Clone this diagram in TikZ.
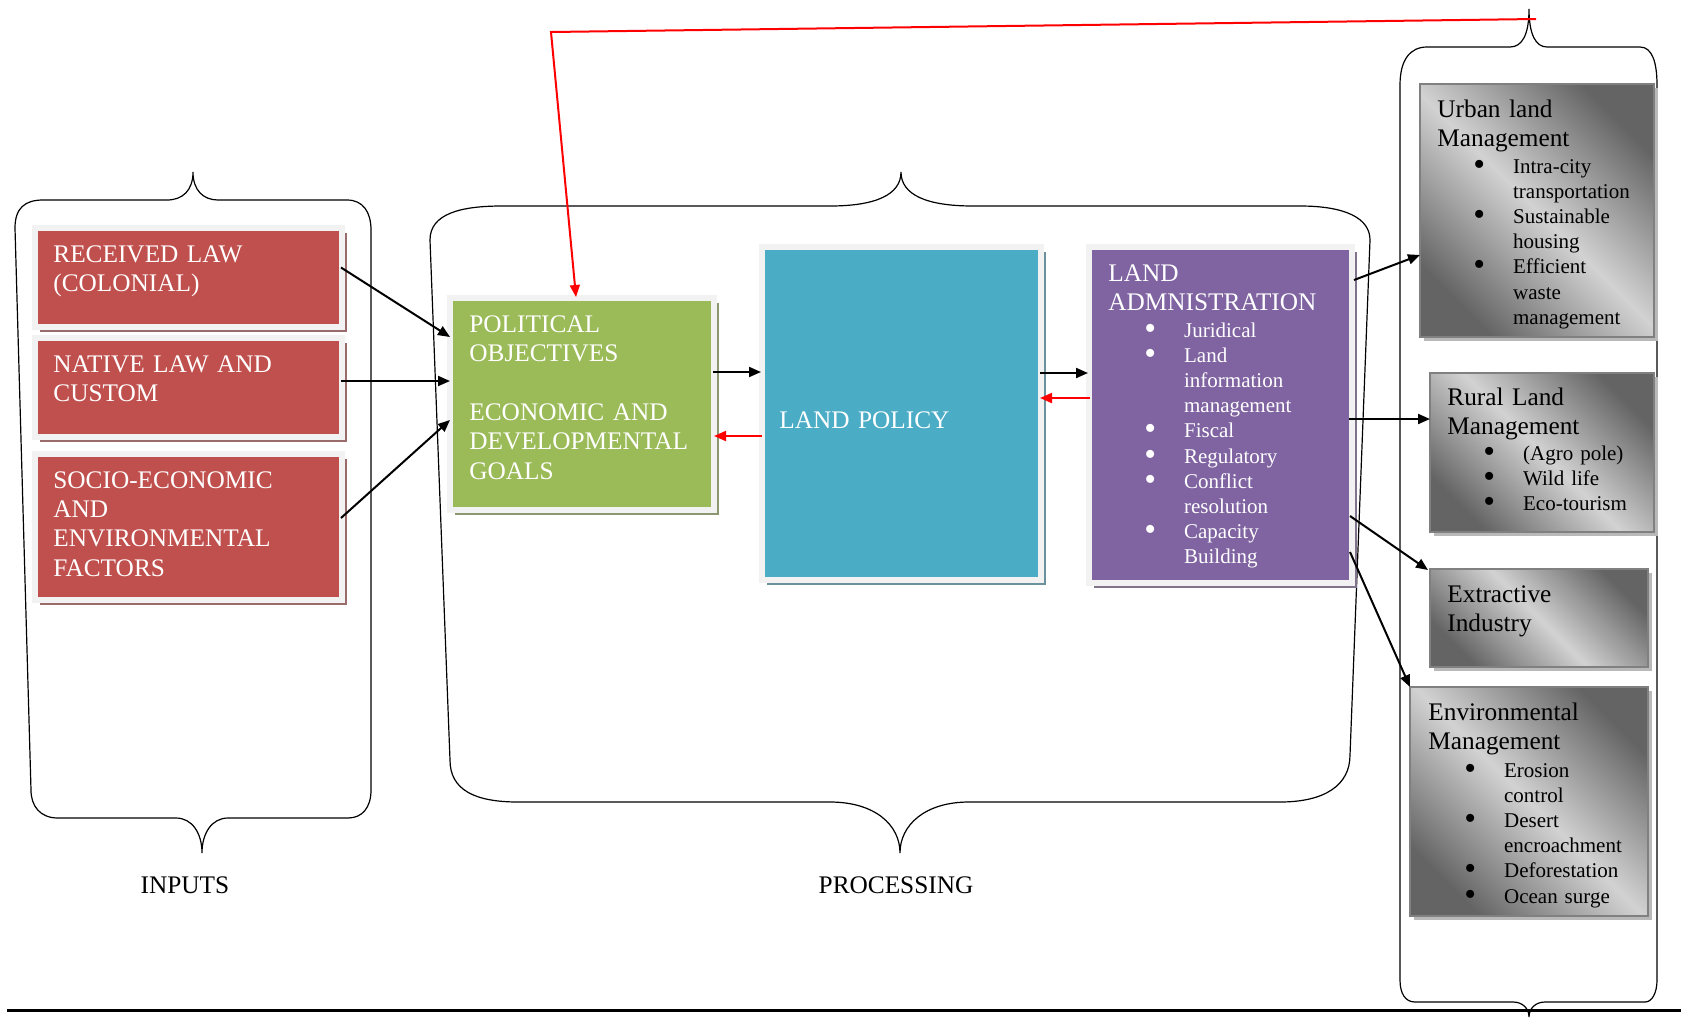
\documentclass[tikz,border=0pt]{standalone}
\usepackage{fontspec}
\setmainfont{Liberation Serif}
\usetikzlibrary{arrows.meta,shadows,positioning}

\definecolor{redbox}{HTML}{C0504D}
\definecolor{greenbox}{HTML}{9BBB59}
\definecolor{bluebox}{HTML}{4BACC6}
\definecolor{purplebox}{HTML}{8064A2}
\definecolor{frame}{HTML}{F2F2F2}
\definecolor{gdark}{HTML}{646464}
\definecolor{glight}{HTML}{D2D2D2}

\newcommand{\bul}{\makebox[19.85pt][l]{\smash{\raisebox{-0.1em}{\scalebox{1.6}{\textbullet}}}}}
\newcommand{\ind}{\hspace*{19.85pt}}

\tikzset{
	box/.style={anchor=north west, inner sep=0pt, outer sep=0pt},
	cbox/.style={box, fill=#1, draw=frame, line width=2.75pt,
		drop shadow={shadow xshift=2.5pt, shadow yshift=-2.5pt, fill=#1!40!gray, opacity=1}},
	gbox/.style={box, draw=gray, line width=0.8pt,
		top color=gdark, bottom color=gdark, middle color=glight, shading angle=-45,
		drop shadow={shadow xshift=1.8pt, shadow yshift=-1.8pt, fill=gray!55, opacity=1}},
	hd/.style={anchor=base west, inner sep=0pt, align=left, text width=150pt,
		font=\fontsize{12.65}{14.7}\selectfont},
	ls/.style={anchor=base west, inner sep=0pt, align=left, text width=120pt,
		font=\fontsize{10.5}{12.6}\selectfont},
	lbl/.style={inner sep=0pt, font=\fontsize{12.65}{14.7}\selectfont},
	arr/.style={-{Triangle[length=6pt,width=5pt]}, line width=1pt},
	farr/.style={arr, red},
	brace/.style={line width=0.6pt}
}

\begin{document}
\begin{tikzpicture}[x=0.5pt, y=-0.5pt]
	\useasboundingbox (0,0) rectangle (1681,1018);

	% braces
	\draw[brace] (31,790) -- (15,228) .. controls (15,208) and (25,200) .. (43,200) -- (167,200)
		.. controls (183,200) and (193,190) .. (193,172) .. controls (193,190) and (203,200) .. (218,200)
		-- (347,200) .. controls (363,200) and (371,212) .. (371,230) -- (371,790)
		.. controls (371,808) and (362,818) .. (348,818) -- (228,818)
		.. controls (212,818) and (202,833) .. (202,853) .. controls (202,833) and (192,818) .. (176,818)
		-- (58,818) .. controls (40,818) and (31,806) .. (31,790) -- cycle;
	\draw[brace] (450,760) -- (430,240) .. controls (430,214) and (460,206) .. (502,206) -- (830,206)
		.. controls (875,206) and (901,195) .. (901,172) .. controls (901,195) and (927,206) .. (973,206)
		-- (1300,206) .. controls (1345,206) and (1370,218) .. (1370,240) -- (1350,755)
		.. controls (1350,785) and (1325,802) .. (1280,802) -- (969,802)
		.. controls (925,802) and (900,825) .. (900,853) .. controls (900,825) and (875,802) .. (830,802)
		-- (518,802) .. controls (475,802) and (450,790) .. (450,760) -- cycle;
	\draw[brace] (1400,980) -- (1400,85) .. controls (1400,60) and (1410,47) .. (1427,47) -- (1510,47)
		.. controls (1522,47) and (1529,35) .. (1529,9) .. controls (1529,35) and (1536,47) .. (1547,47)
		-- (1640,47) .. controls (1652,47) and (1657,62) .. (1657,85) -- (1657,980)
		.. controls (1657,993) and (1652,1002) .. (1645,1002) -- (1545,1002)
		.. controls (1536,1002) and (1529,1008) .. (1529,1017) .. controls (1529,1008) and (1522,1002) .. (1513,1002)
		-- (1415,1002) .. controls (1405,1002) and (1400,993) .. (1400,980) -- cycle;
	\draw[line width=1.5pt] (7,1010) -- (1681,1010);

	% inputs
	\node[cbox=redbox, minimum width=153.5pt, minimum height=49.5pt] (rec) at (35,228) {};
	\node[cbox=redbox, minimum width=153.5pt, minimum height=49.5pt] (nat) at (35,338) {};
	\node[cbox=redbox, minimum width=153.5pt, minimum height=73pt] (soc) at (35,454) {};
	\node[hd, text=white] (rectx) at (53,262) {RECEIVED LAW\\(COLONIAL)};
	\node[hd, text=white] (nattx) at (53,372) {NATIVE LAW AND\\CUSTOM};
	\node[hd, text=white] (soctx) at (53,488) {SOCIO-ECONOMIC\\AND\\ENVIRONMENTAL\\FACTORS};

	% processing
	\node[cbox=greenbox, minimum width=132pt, minimum height=106pt] (pol) at (450,298) {};
	\node[cbox=bluebox, minimum width=139.5pt, minimum height=166.5pt] (lp) at (762,247) {};
	\node[cbox=purplebox, minimum width=131.5pt, minimum height=168pt] (la) at (1089,247) {};
	\node[hd, text=white] (poltx) at (469,332) {POLITICAL\\OBJECTIVES\\[14.7pt]ECONOMIC AND\\DEVELOPMENTAL\\GOALS};
	\node[hd, text=white] (lptx) at (779,428) {LAND POLICY};
	\node[hd, text=white] (latx) at (1108,281) {LAND\\ADMNISTRATION};
	\node[ls, text=white] (lals) at (1144,337) {\bul Juridical\\ \bul Land\\ \ind information\\ \ind management\\
		\bul Fiscal\\ \bul Regulatory\\ \bul Conflict\\ \ind resolution\\ \bul Capacity\\ \ind Building};

	% outputs
	\node[gbox, minimum width=117pt, minimum height=126.5pt] (urb) at (1420,84) {};
	\node[gbox, minimum width=112pt, minimum height=79.5pt] (rur) at (1430,373) {};
	\node[gbox, minimum width=109pt, minimum height=49pt] (ext) at (1430,569) {};
	\node[gbox, minimum width=119pt, minimum height=114.5pt] (env) at (1410,687) {};
	\node[hd] (urbtx) at (1437,117) {Urban land\\Management};
	\node[ls] (urbls) at (1473,173) {\bul Intra-city\\ \ind transportation\\ \bul Sustainable\\ \ind housing\\
		\bul Efficient\\ \ind waste\\ \ind management};
	\node[hd] (rurtx) at (1447,405) {Rural Land\\Management};
	\node[ls] (rurls) at (1483,460) {\bul (Agro pole)\\ \bul Wild life\\ \bul Eco-tourism};
	\node[hd] (exttx) at (1447,602) {Extractive\\Industry};
	\node[hd] (envtx) at (1428,720) {Environmental\\Management};
	\node[ls] (envls) at (1464,777) {\bul Erosion\\ \ind control\\ \bul Desert\\ \ind encroachment\\
		\bul Deforestation\\ \bul Ocean surge};

	\node[lbl] (inp) at (185,885) {INPUTS};
	\node[lbl] (proc) at (896,885) {PROCESSING};

	% connectors
	\draw[arr] ([shift={(-1,-10)}]rec.east) -- ([shift={(0,-67)}]pol.west);
	\draw[arr] ([shift={(-1,-6.5)}]nat.east) -- ([shift={(0,-23)}]pol.west);
	\draw[arr] ([shift={(-1,-9)}]soc.east) -- ([shift={(0,16)}]pol.west);
	\draw[arr] ([shift={(-1,-32)}]pol.east) -- ([shift={(-1,-41.5)}]lp.west);
	\draw[farr] ([shift={(0,22.5)}]lp.west) -- ([shift={(0,32)}]pol.east);
	\draw[arr] ([shift={(-1,-40.5)}]lp.east) -- ([shift={(-1,-42)}]la.west);
	\draw[farr] ([shift={(1,-17)}]la.west) -- ([shift={(-1,-15.5)}]lp.east);
	\draw[arr] ([shift={(2,-135)}]la.east) -- ([shift={(0,44.5)}]urb.west);
	\draw[arr] ([shift={(-3,4)}]la.east) -- ([shift={(0,-33.5)}]rur.west);
	\draw[arr] ([shift={(-2,101)}]la.east) -- ([shift={(-2,1)}]ext.north west);
	\draw[arr] ([shift={(-2,137)}]la.east) -- (env.north west);

	% feedback
	\coordinate (fbr) at (1536,19);
	\coordinate (fbl) at (551,32);
	\draw[farr] (fbr) -- (fbl) -- ([shift={(-6,-1)}]pol.north);
\end{tikzpicture}
\end{document}
